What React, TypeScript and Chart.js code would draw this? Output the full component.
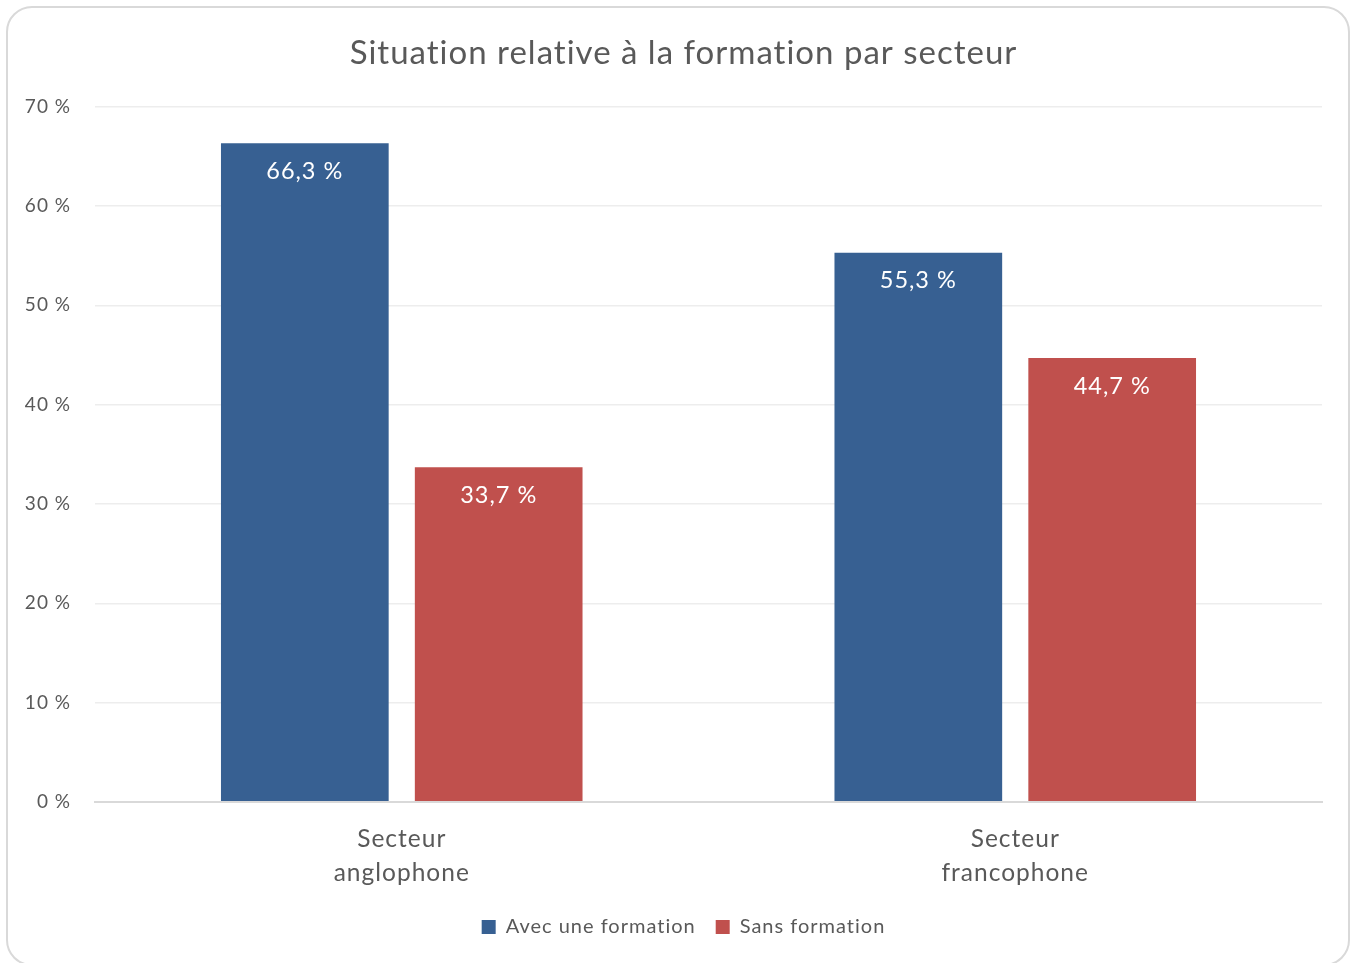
import React, { useEffect, useRef } from "react";
import { Chart, registerables } from "chart.js";

Chart.register(...registerables);

const TITLE = "Situation relative à la formation par secteur";
const categories: string[][] = [
  ["Secteur", "anglophone"],
  ["Secteur", "francophone"],
];
const seriesNames = ["Avec une formation", "Sans formation"];
const avecFormation = [66.3, 55.3];
const sansFormation = [33.7, 44.7];
const seriesColors = ["#376092", "#C0504D"];
const yMin = 0;
const yMax = 70;
const yStep = 10;

const FONT = "Lato, 'Open Sans', sans-serif";
const TEXT = "#595959";
const HEADER_LEFT = 45;

const fmt = (v: number) => v.toFixed(1).replace(".", ",") + " %";

const spacingPlugin = {
  id: "letterSpacing",
  beforeInit(chart: any) {
    chart.ctx.letterSpacing = "1px";
  },
  beforeUpdate(chart: any) {
    chart.ctx.letterSpacing = "1px";
  },
  beforeDraw(chart: any) {
    chart.ctx.letterSpacing = "1px";
  },
};

// centre the title and legend like the original (on the band right of the y labels)
const shiftHeaderPlugin = {
  id: "shiftHeader",
  afterLayout(chart: any) {
    if (chart.titleBlock) chart.titleBlock.left = HEADER_LEFT;
    if (chart.legend) chart.legend.left = HEADER_LEFT;
  },
};

const dataLabelPlugin = {
  id: "dataLabels",
  afterDatasetsDraw(chart: any) {
    const ctx = chart.ctx;
    ctx.save();
    ctx.fillStyle = "#FFFFFF";
    ctx.font = `23.5px ${FONT}`;
    ctx.textAlign = "center";
    ctx.textBaseline = "middle";
    chart.data.datasets.forEach((ds: any, di: number) => {
      const meta = chart.getDatasetMeta(di);
      meta.data.forEach((bar: any, i: number) => {
        ctx.fillText(fmt(ds.data[i]), bar.x, bar.y + 28);
      });
    });
    ctx.restore();
  },
};

export default function App() {
  const ref = useRef<HTMLCanvasElement | null>(null);
  useEffect(() => {
    if (!ref.current) return;
    const chart = new Chart(ref.current, {
      type: "bar",
      data: {
        labels: categories,
        datasets: [
          {
            label: seriesNames[0],
            data: avecFormation,
            backgroundColor: seriesColors[0],
            categoryPercentage: 0.632,
            barPercentage: 0.865,
          },
          {
            label: seriesNames[1],
            data: sansFormation,
            backgroundColor: seriesColors[1],
            categoryPercentage: 0.632,
            barPercentage: 0.865,
          },
        ],
      },
      plugins: [spacingPlugin, shiftHeaderPlugin, dataLabelPlugin],
      options: {
        animation: false,
        responsive: false,
        maintainAspectRatio: false,
        layout: { padding: { left: 0, right: 30, top: 0, bottom: 16 } },
        plugins: {
          title: {
            display: true,
            text: TITLE,
            color: TEXT,
            font: { family: FONT, size: 33, weight: "normal" as any, lineHeight: 1.2 },
            padding: { top: 34, bottom: 33 },
          },
          legend: {
            position: "bottom",
            labels: {
              color: TEXT,
              font: { family: FONT, size: 20 },
              boxWidth: 14,
              boxHeight: 14,
              padding: 20,
            },
          },
          tooltip: { enabled: false },
        },
        scales: {
          x: {
            afterFit(scale: any) {
              scale.height = 95;
            },
            grid: { display: false },
            border: { display: true, color: "#D9D9D9", width: 2 },
            ticks: {
              color: TEXT,
              font: { family: FONT, size: 24.5, lineHeight: 1.4 },
              padding: 12,
              maxRotation: 0,
            },
          },
          y: {
            min: yMin,
            max: yMax,
            afterFit(scale: any) {
              scale.width = 95;
            },
            border: { display: false },
            grid: {
              drawTicks: false,
              color: (c: any) => (c.tick && c.tick.value === 0 ? "#D9D9D9" : "#EDEDED"),
              lineWidth: (c: any) => (c.tick && c.tick.value === 0 ? 2 : 1.5),
            },
            ticks: {
              stepSize: yStep,
              color: TEXT,
              font: { family: FONT, size: 19 },
              padding: 24,
              callback: (v: any) => `${v} %`,
            },
          },
        },
      },
    });
    return () => chart.destroy();
  }, []);
  return (
    <div style={{ position: "fixed", left: 0, top: 0, width: 1352, height: 963, background: "#fff", overflow: "hidden" }}>
      <div
        style={{
          position: "absolute",
          left: 6,
          top: 6,
          width: 1340,
          height: 956,
          border: "2px solid #D9D9D9",
          borderRadius: 26,
        }}
      />
      <canvas ref={ref} width={1352} height={963} style={{ position: "absolute", left: 0, top: 0 }} />
    </div>
  );
}
